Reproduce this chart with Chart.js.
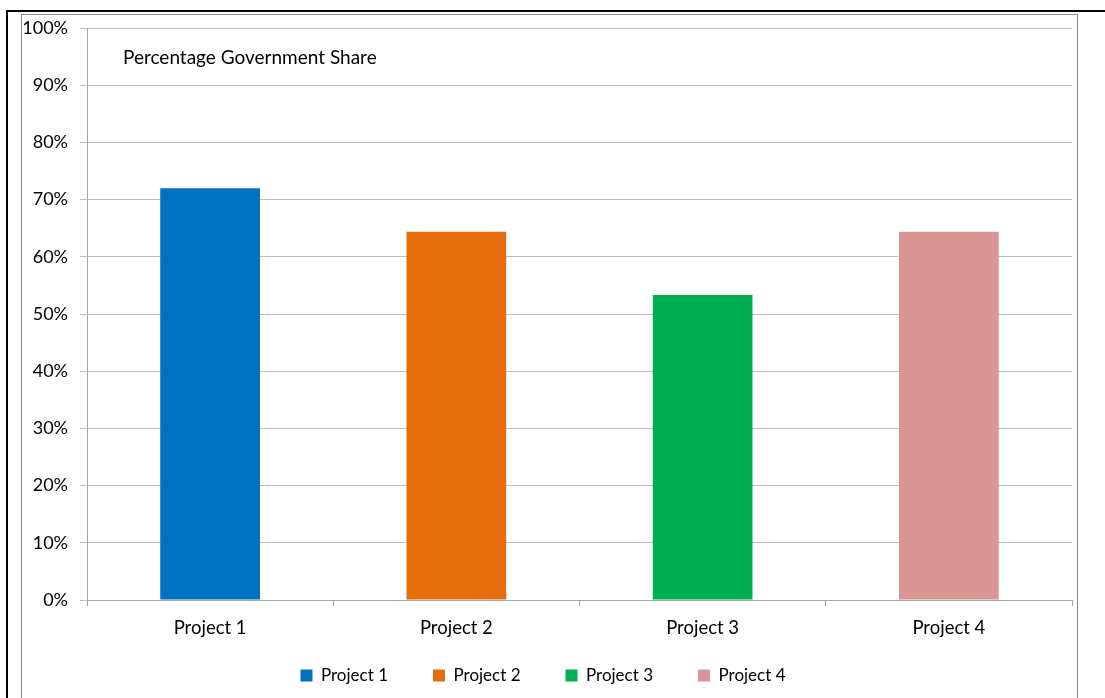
<!DOCTYPE html>
<html>
<head>
<meta charset="utf-8">
<script src="https://cdn.jsdelivr.net/npm/chart.js@4/dist/chart.umd.min.js"></script>
<style>
  html, body { margin: 0; padding: 0; background: #fff; width: 1105px; height: 698px; overflow: hidden; }
  #outer { position: absolute; left: 6px; top: 10px; width: 1105px; height: 700px;
           border-left: 2px solid #000; border-top: 2px solid #000; box-sizing: border-box; }
  #frame { position: absolute; left: 21px; top: 14px; width: 1057px; height: 700px;
           border: 1px solid #8c8c8c; box-sizing: border-box; }
  #wrap { position: absolute; left: 22px; top: 15px; width: 1055px; height: 683px; }
</style>
</head>
<body>
<div id="outer"></div>
<div id="frame"></div>
<div id="wrap"><canvas id="c" width="1055" height="683"></canvas></div>
<script>
const categories = ["Project 1", "Project 2", "Project 3", "Project 4"];
const shareValues = [72.0, 64.4, 53.3, 64.4];
const barColors = ["#0070C0", "#E46C0A", "#00B050", "#D99694"];
const chartTitle = "Percentage Government Share";

const FONT = "Lato, 'Open Sans', sans-serif";

const innerTitle = {
  id: 'innerTitle',
  afterLayout(chart) {
    if (chart.legend) { chart.legend.left -= 4; chart.legend.right -= 4; }
  },
  afterDraw(chart) {
    const ctx = chart.ctx, a = chart.chartArea;
    ctx.save();
    ctx.font = "19px " + FONT;
    ctx.fillStyle = "#000";
    ctx.textAlign = "left";
    ctx.textBaseline = "middle";
    ctx.fillText(chartTitle, a.left + 36, a.top + 30);
    ctx.restore();
  }
};

new Chart(document.getElementById('c'), {
  type: 'bar',
  data: {
    labels: categories,
    datasets: [{
      data: shareValues,
      backgroundColor: barColors,
      borderWidth: 0,
      categoryPercentage: 1.0,
      barPercentage: 0.405
    }]
  },
  options: {
    responsive: false,
    animation: false,
    layout: { padding: { top: 13, left: 0, right: 5, bottom: 4 } },
    plugins: {
      tooltip: { enabled: false },
      legend: {
        position: 'bottom',
        labels: {
          font: { family: FONT, size: 17 },
          color: '#000',
          boxWidth: 12,
          boxHeight: 12,
          padding: 45,
          generateLabels(chart) {
            const ds = chart.data.datasets[0];
            return chart.data.labels.map((l, i) => ({
              text: l,
              fillStyle: ds.backgroundColor[i],
              strokeStyle: ds.backgroundColor[i],
              lineWidth: 0,
              fontColor: '#000',
              index: i
            }));
          }
        }
      }
    },
    scales: {
      x: {
        grid: { display: true, drawOnChartArea: false, drawTicks: true, tickLength: 6, color: '#a6a6a6', offset: true },
        border: { color: '#a6a6a6', width: 1 },
        ticks: { font: { family: FONT, size: 18.5 }, color: '#000', padding: 11, autoSkip: false, maxRotation: 0 },
        afterFit(scale) {
          scale.height = 22;
          scale._computeLabelArea = function () { return undefined; };
        }
      },
      y: {
        min: 0, max: 100,
        ticks: { stepSize: 10, callback: v => v + '%', font: { family: FONT, size: 18 }, color: '#000', padding: 12 },
        grid: { color: '#bfbfbf', tickLength: 7, lineWidth: 1 },
        border: { color: '#a6a6a6', width: 1 },
        afterFit(scale) {
          scale.width = 65;
          scale.paddingTop = 0;
          scale.paddingBottom = 0;
        }
      }
    }
  },
  plugins: [innerTitle]
});
</script>
</body>
</html>
